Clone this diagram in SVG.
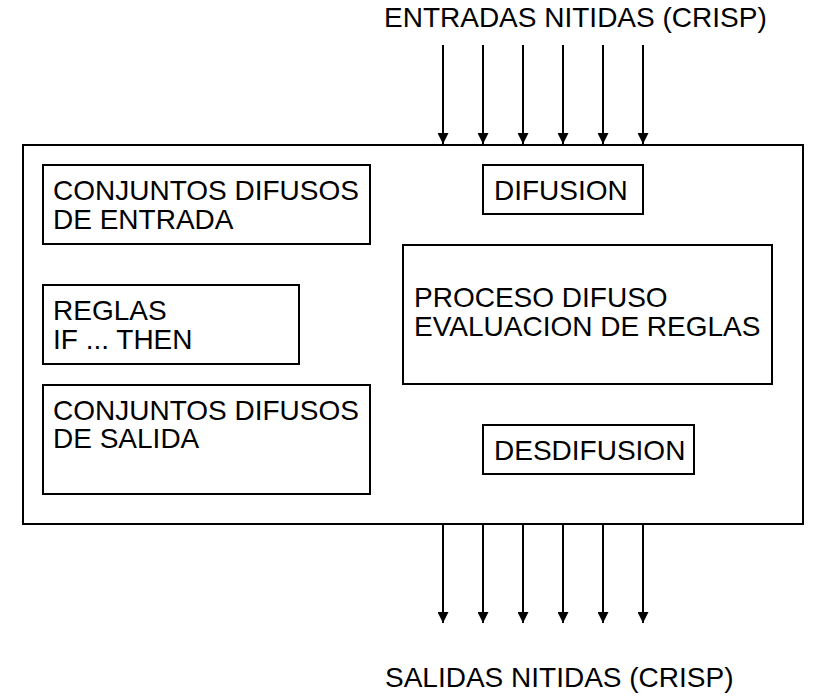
<svg xmlns="http://www.w3.org/2000/svg" width="827" height="699" viewBox="0 0 827 699">
  <style>
    .box { fill: #fff; stroke: #000; stroke-width: 2; }
    .lbl { font-family: "Liberation Sans", Arial, sans-serif; font-size: 28px; fill: #000; }
    .wire { stroke: #000; stroke-width: 2; fill: none; marker-end: url(#head); }
  </style>
  <defs>
    <marker id="head" viewBox="0 0 10 10" refX="10" refY="5" markerUnits="userSpaceOnUse" markerWidth="11" markerHeight="11" orient="auto">
      <path d="M0,0 L10,5 L0,10 z" fill="#000"/>
    </marker>
  </defs>
  <rect width="827" height="699" fill="#fff"/>

  <!-- controller frame -->
  <g id="controller">
    <rect class="box" x="23" y="145" width="780" height="379"/>
  </g>

  <g id="entrada">
    <rect class="box" x="43" y="165" width="327" height="79"/>
    <text class="lbl" x="53" y="200">CONJUNTOS DIFUSOS</text>
    <text class="lbl" x="53" y="229">DE ENTRADA</text>
  </g>

  <g id="reglas">
    <rect class="box" x="43" y="285" width="256" height="79"/>
    <text class="lbl" x="53" y="320">REGLAS</text>
    <text class="lbl" x="53" y="349">IF ... THEN</text>
  </g>

  <g id="salida">
    <rect class="box" x="43" y="385" width="327" height="109"/>
    <text class="lbl" x="53" y="420">CONJUNTOS DIFUSOS</text>
    <text class="lbl" x="53" y="448">DE SALIDA</text>
  </g>

  <g id="difusion">
    <rect class="box" x="483" y="165" width="160" height="49"/>
    <text class="lbl" x="494" y="200">DIFUSION</text>
  </g>

  <g id="proceso">
    <rect class="box" x="403" y="245" width="369" height="139"/>
    <text class="lbl" x="414" y="307">PROCESO DIFUSO</text>
    <text class="lbl" x="414" y="336">EVALUACION DE REGLAS</text>
  </g>

  <g id="desdifusion">
    <rect class="box" x="483" y="425" width="211" height="49"/>
    <text class="lbl" x="494" y="460">DESDIFUSION</text>
  </g>

  <g id="entradas-label">
    <text class="lbl" x="384" y="27">ENTRADAS NITIDAS (CRISP)</text>
  </g>
  <g id="salidas-label">
    <text class="lbl" x="385" y="687">SALIDAS NITIDAS (CRISP)</text>
  </g>

  <!-- crisp inputs and outputs -->
  <g id="connectors">
    <line class="wire" x1="443" y1="45" x2="443" y2="144"/>
    <line class="wire" x1="483" y1="45" x2="483" y2="144"/>
    <line class="wire" x1="523" y1="45" x2="523" y2="144"/>
    <line class="wire" x1="563" y1="45" x2="563" y2="144"/>
    <line class="wire" x1="603" y1="45" x2="603" y2="144"/>
    <line class="wire" x1="643" y1="45" x2="643" y2="144"/>
    <line class="wire" x1="443" y1="525" x2="443" y2="623"/>
    <line class="wire" x1="483" y1="525" x2="483" y2="623"/>
    <line class="wire" x1="523" y1="525" x2="523" y2="623"/>
    <line class="wire" x1="563" y1="525" x2="563" y2="623"/>
    <line class="wire" x1="603" y1="525" x2="603" y2="623"/>
    <line class="wire" x1="643" y1="525" x2="643" y2="623"/>
  </g>
</svg>
